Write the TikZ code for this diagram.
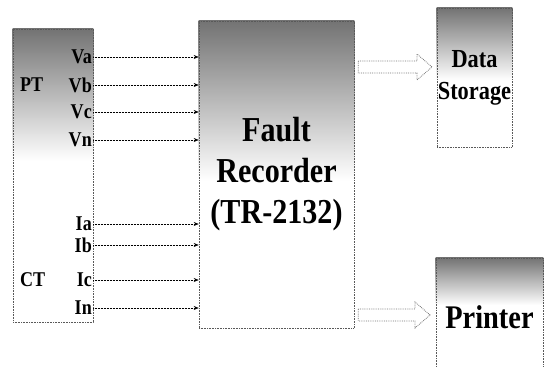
\documentclass[tikz,border=0pt]{standalone}
\usepackage{fontspec}
\setmainfont{Liberation Serif}[FakeStretch=0.86]
\usetikzlibrary{arrows.meta,positioning,calc,backgrounds}

\begin{document}
\begin{tikzpicture}[x=1pt,y=1pt,
    fadebox/.style={draw=black!65,densely dotted,line width=0.6pt,
        align=center,inner sep=0pt},
    sig/.style={font=\fontsize{21}{24}\selectfont\bfseries,inner sep=0pt,anchor=east},
    grp/.style={font=\fontsize{21}{24}\selectfont\bfseries,inner sep=0pt,anchor=west},
    arr/.style={-{Stealth[length=5pt,width=4pt]},densely dotted,line width=0.5pt,shorten <=1pt},
    hollow/.style={draw=black!55,densely dotted,line width=0.8pt}]

  \useasboundingbox (0,0) rectangle (544,367);

  % boxes
  \node[fadebox,minimum width=80pt,minimum height=293pt] (src) at (53,191.5) {};
  \node[fadebox,minimum width=155pt,minimum height=307pt,
        font=\fontsize{35}{41}\selectfont\bfseries] (rec) at (276.5,192.5) {Fault\\Recorder\\(TR-2132)};
  \node[fadebox,minimum width=75pt,minimum height=139pt,
        font=\fontsize{26}{32}\selectfont\bfseries] (ds) at (474.5,289.5) {Data\\Storage};
  \node[fadebox,minimum width=107pt,minimum height=118pt,
        font=\fontsize{33}{38}\selectfont\bfseries] (pr) at (489.5,50) {Printer};

  % gray tops
  \begin{scope}[on background layer]
    \foreach \bx/\fr in {src/0.45,rec/0.52,ds/0.52,pr/0.4}
      \shade[top color=black!55,bottom color=white]
        (\bx.north west) rectangle ($(\bx.north east)!\fr!(\bx.south east)$);
  \end{scope}

  % signals
  \foreach \nm/\txt/\yy in {va/Va/310,vb/Vb/282,vc/Vc/255,vn/Vn/227,
                            ia/Ia/143,ib/Ib/122,ic/Ic/87,iN/In/59}
    \node[sig] (\nm) at (92,\yy) {\txt};
  \node[grp] (pt) at (20,282) {PT};
  \node[grp] (ct) at (20,87) {CT};

  \foreach \nm in {va,vb,vc,vn,ia,ib,ic,iN}
    \draw[arr] (\nm.east) -- (\nm.east -| rec.west);

  % outputs
  \coordinate (dstip) at (432,300);
  \coordinate (prtip) at (430,52);
  \foreach \tp in {dstip,prtip}
    \draw[hollow] ($(rec.east |- \tp)+(4,6)$) -- ($(\tp)+(-15,6)$) -- ($(\tp)+(-15,13)$)
      -- (\tp) -- ($(\tp)+(-15,-13)$) -- ($(\tp)+(-15,-6)$) -- ($(rec.east |- \tp)+(4,-6)$) -- cycle;
\end{tikzpicture}
\end{document}
